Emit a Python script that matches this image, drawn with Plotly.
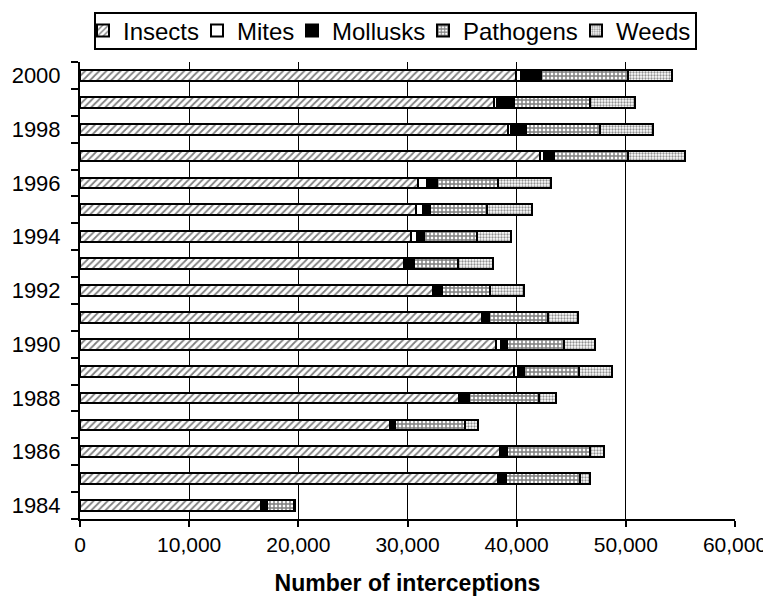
import plotly.graph_objects as go

years = [1984, 1985, 1986, 1987, 1988, 1989, 1990, 1991, 1992, 1993, 1994, 1995, 1996, 1997, 1998, 1999, 2000]
insects   = [16600, 38300, 38500, 28400, 34700, 39800, 38100, 36800, 32300, 29700, 30300, 30800, 31000, 42100, 39200, 37900, 39900]
mites     = [50, 50, 50, 50, 200, 300, 500, 200, 100, 200, 600, 600, 800, 400, 250, 300, 500]
mollusks  = [500, 650, 550, 450, 700, 600, 500, 500, 800, 700, 600, 700, 900, 900, 1450, 1600, 1800]
pathogens = [2450, 6800, 7600, 6400, 6400, 5000, 5200, 5400, 4400, 4000, 4900, 5200, 5600, 6800, 6700, 6900, 8000]
weeds     = [100, 900, 1300, 1200, 1600, 3000, 2900, 2700, 3100, 3200, 3100, 4100, 4800, 5200, 4900, 4100, 4000]
year_labels = [str(y) if y % 2 == 0 else "" for y in years]
x_ticks = [0, 10000, 20000, 30000, 40000, 50000, 60000]

FONT = "Liberation Sans, Arial, sans-serif"
OFF = 8  # page body margin
W, H = 771 - OFF, 599 - OFF
ML, MR, MT, MB = 80 - OFF, 36, 62 - OFF, 80

series = [
    ("Insects", insects, dict(shape="/", size=5, solidity=0.35, fgcolor="black", bgcolor="white")),
    ("Mites", mites, None),
    ("Mollusks", mollusks, None),
    ("Pathogens", pathogens, dict(shape="+", size=4, solidity=0.6, fgcolor="black", bgcolor="white")),
    ("Weeds", weeds, dict(shape=".", size=3, solidity=0.45, fgcolor="#222222", bgcolor="white")),
]
colors = {"Insects": "white", "Mites": "white", "Mollusks": "black", "Pathogens": "white", "Weeds": "white"}
# screen x where each legend entry's text starts (layout only)
legend_text_px = [120, 234, 329, 460, 613]
legend_names = ["legend", "legend2", "legend3", "legend4", "legend5"]

fig = go.Figure()
for i, (name, vals, pat) in enumerate(series):
    marker = dict(color=colors[name], line=dict(color="black", width=2))
    if pat:
        marker["pattern"] = pat
    fig.add_trace(go.Bar(
        name=name, y=[str(y) for y in years], x=vals, orientation="h", marker=marker,
        legend=legend_names[i],
    ))

legend_cfg = {}
for i, ln in enumerate(legend_names):
    legend_cfg[ln] = dict(
        orientation="h", xref="container", yref="container",
        x=(legend_text_px[i] - 37 - OFF) / W, xanchor="left",
        y=1 - (31 - OFF) / H, yanchor="middle",
        bgcolor="rgba(0,0,0,0)", borderwidth=0,
        font=dict(size=24, family=FONT, color="black"),
        itemwidth=30,
    )

plot_h = H - MT - MB
plot_w = W - ML - MR
fig.add_shape(
    type="rect", xref="paper", yref="paper",
    x0=(95 - OFF - ML) / plot_w, x1=(696 - OFF - ML) / plot_w,
    y0=(H - MB - (49 - OFF)) / plot_h, y1=(H - MB - (13 - OFF)) / plot_h,
    line=dict(color="black", width=2), fillcolor="rgba(0,0,0,0)", layer="above",
)

fig.update_layout(
    barmode="stack",
    bargap=0.6,
    width=W, height=H,
    margin=dict(l=ML, r=MR, t=MT, b=MB),
    paper_bgcolor="white", plot_bgcolor="white",
    font=dict(family=FONT, color="black", size=21),
    showlegend=True,
    xaxis=dict(
        range=[0, 60000], tickvals=x_ticks, tickformat=",",
        showgrid=True, gridcolor="black", gridwidth=1,
        showline=True, linecolor="black", linewidth=2,
        ticks="outside", ticklen=6, tickwidth=2, tickcolor="black",
        zeroline=False, automargin=False,
        title=dict(text="<b>Number of interceptions</b>", font=dict(size=23), standoff=20),
    ),
    yaxis=dict(
        type="category", tickvals=[str(y) for y in years], ticktext=year_labels,
        tickfont=dict(size=22),
        tickson="boundaries", ticks="outside", ticklen=7, tickwidth=2, tickcolor="black",
        showline=True, linecolor="black", linewidth=2, showgrid=False,
        automargin=False, ticklabelstandoff=13,
    ),
    **legend_cfg,
)

fig.write_html("out.html")
